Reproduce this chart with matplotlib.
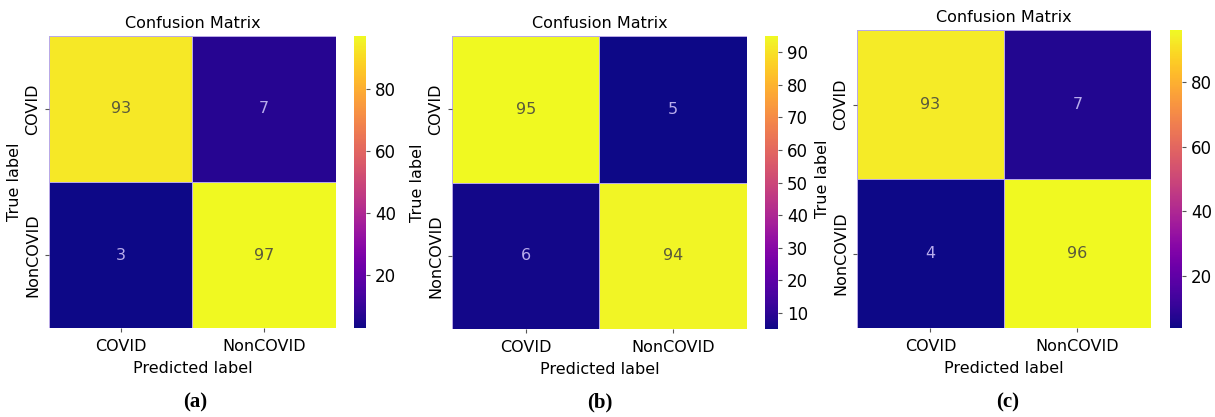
import matplotlib
matplotlib.use("Agg")
import matplotlib.pyplot as plt
import numpy as np
import seaborn as sns

class_names = ["COVID", "NonCOVID"]

# rows = true label, cols = predicted label
cm_a = [[93, 7], [3, 97]]
cm_b = [[95, 5], [6, 94]]
cm_c = [[93, 7], [4, 96]]

panel_tags = ["(a)", "(b)", "(c)"]
cbar_ticks = [[20, 40, 60, 80],
              [10, 20, 30, 40, 50, 60, 70, 80, 90],
              [20, 40, 60, 80]]

fig = plt.figure(figsize=(12.15, 4.17), dpi=100)

# [heatmap box, colorbar box] for each panel in figure fractions
boxes = [
    ([0.0403, 0.2134, 0.2362, 0.7003], [0.2914, 0.2134, 0.0099, 0.7003]),
    ([0.3720, 0.2110, 0.2428, 0.7026], [0.6296, 0.2110, 0.0107, 0.7026]),
    ([0.7053, 0.2134, 0.2420, 0.7146], [0.9630, 0.2134, 0.0099, 0.7146]),
]
tag_x = [0.161, 0.494, 0.829]

fs = 11.5

for cm, tag, tx, ticks, (hbox, cbox) in zip([cm_a, cm_b, cm_c], panel_tags, tag_x,
                                            cbar_ticks, boxes):
    ax = fig.add_axes(hbox)
    cax = fig.add_axes(cbox)
    data = np.array(cm)
    sns.heatmap(data, ax=ax, cbar_ax=cax, cmap="plasma", annot=False,
                xticklabels=class_names, yticklabels=class_names,
                linewidths=0.6, linecolor="#b9a9e6")
    vmin, vmax = data.min(), data.max()
    for i in range(2):
        for j in range(2):
            v = data[i, j]
            light = (v - vmin) / (vmax - vmin) > 0.5
            ax.text(j + 0.5, i + 0.5, str(v), ha="center", va="center",
                    fontsize=fs, color="#5a5a3c" if light else "#b8acec")
    ax.set_title("Confusion Matrix", fontsize=fs, pad=6)
    ax.set_xlabel("Predicted label", fontsize=fs, labelpad=5)
    ax.set_ylabel("True label", fontsize=fs, labelpad=2)
    ax.tick_params(axis="both", labelsize=fs, length=3, width=0.8, color="#555555")
    ax.tick_params(axis="x", pad=5)
    ax.set_yticklabels(class_names, rotation=90, va="center")
    cax.set_yticks(ticks)
    cax.tick_params(labelsize=12, length=3, width=0.8, color="#555555")
    fig.text(tx, 0.036, tag, ha="center", va="center",
             fontsize=15, fontweight="bold", family="Liberation Serif")

fig.savefig("out.png", dpi=100)
